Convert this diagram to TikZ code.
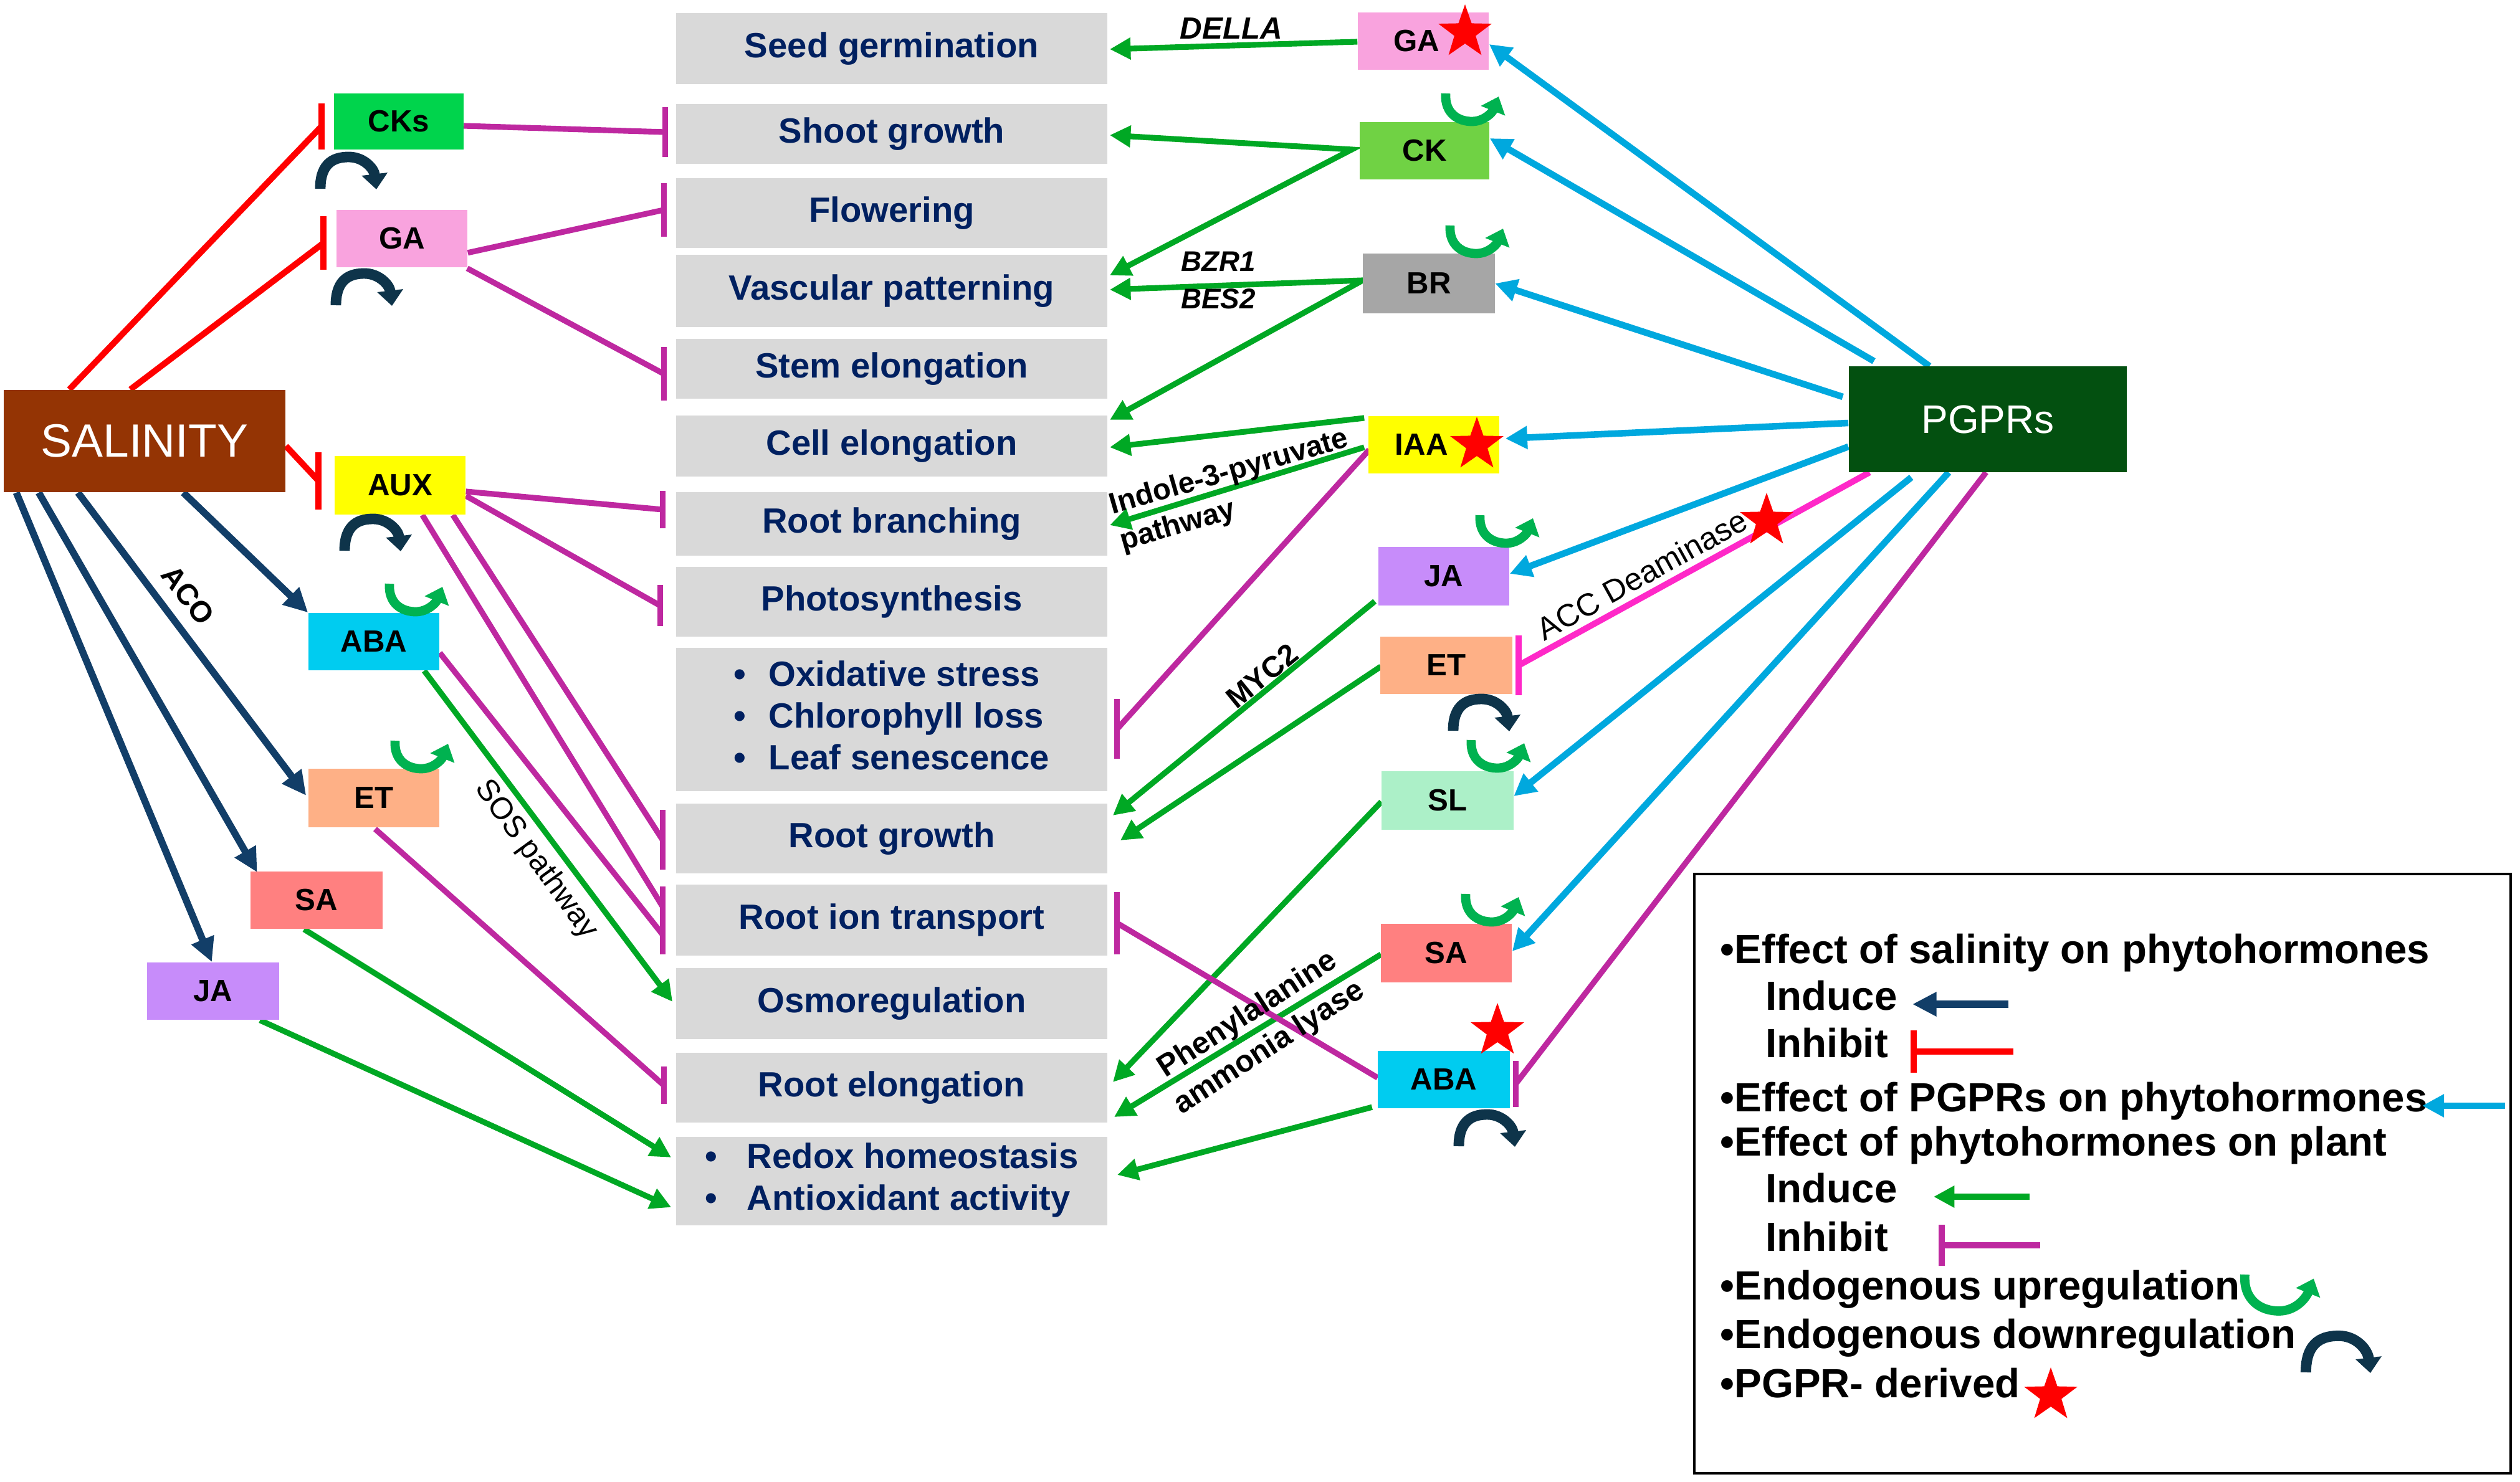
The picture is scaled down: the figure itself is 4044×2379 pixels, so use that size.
\documentclass[tikz,border=0pt]{standalone}
\usepackage{fontspec}
\setmainfont{Liberation Sans}
\usetikzlibrary{arrows.meta,calc,shapes.geometric}
\pgfdeclarelayer{bg}
\pgfsetlayers{bg,main}
\definecolor{salc}{RGB}{148,52,4}
\definecolor{pgc}{RGB}{3,80,16}
\definecolor{boxgray}{RGB}{217,217,217}
\definecolor{navytext}{RGB}{0,32,96}
\definecolor{cksc}{RGB}{0,212,76}
\definecolor{gac}{RGB}{249,163,222}
\definecolor{auxc}{RGB}{255,255,0}
\definecolor{abac}{RGB}{0,204,240}
\definecolor{etcol}{RGB}{254,176,134}
\definecolor{sac}{RGB}{255,128,128}
\definecolor{jac}{RGB}{199,140,250}
\definecolor{ckc}{RGB}{112,210,68}
\definecolor{brc}{RGB}{166,166,166}
\definecolor{slc}{RGB}{172,240,200}
\definecolor{redc}{RGB}{255,0,0}
\definecolor{navyc}{RGB}{18,62,104}
\definecolor{magc}{RGB}{190,40,160}
\definecolor{pinkc}{RGB}{255,40,200}
\definecolor{greenc}{RGB}{0,168,36}
\definecolor{cyanc}{RGB}{0,168,222}
\definecolor{upc}{RGB}{0,178,80}
\definecolor{downc}{RGB}{14,52,74}
\newcommand\inhbar[3]{\draw[#1,line cap=butt] ($(#2)+(0,#3)$) -- ($(#2)-(0,#3)$);}
\tikzset{
  upreg/.pic={\draw[upc, line width=4.2pt, -{Triangle[length=7pt,width=11.5pt]}] (8,0) .. controls (6,32) and (28,45) .. (50,45) .. controls (70,45) and (83,30) .. (93,5);},
  downreg/.pic={\draw[downc, line width=4.8pt, -{Triangle[length=7pt,width=11.5pt]}] (9,53) .. controls (9,8) and (35,2) .. (55,2) .. controls (78,2) and (95,20) .. (99,54);}
}
\begin{document}
\begin{tikzpicture}[x=0.01cm,y=-0.01cm,
  hb/.style={rectangle, inner sep=0pt, minimum width=2.1cm, minimum height=0.92cm, font=\fontsize{14}{16}\selectfont\bfseries, text=black},
  mb/.style={rectangle, fill=boxgray, inner sep=0pt, minimum width=6.92cm, font=\fontsize{16}{19}\selectfont\bfseries, text=navytext},
  grnarr/.style={draw=greenc, line width=2.6pt, -{Triangle[length=9.5pt,width=9.5pt]}},
  grntwo/.style={draw=greenc, line width=2.6pt, {Triangle[length=9.5pt,width=9.5pt]}-{Triangle[length=9.5pt,width=9.5pt]}},
  cynarr/.style={draw=cyanc, line width=3pt, -{Triangle[length=10pt,width=10pt]}},
  navarr/.style={draw=navyc, line width=3.2pt, -{Triangle[length=11pt,width=10.5pt]}},
  redln/.style={draw=redc, line width=2.8pt},
  magln/.style={draw=magc, line width=2.6pt},
  pinkln/.style={draw=pinkc, line width=2.8pt},
  lbl/.style={font=\fontsize{13.5}{17}\selectfont\bfseries, inner sep=0pt},
  lgd/.style={font=\fontsize{18.6}{22}\selectfont\bfseries, anchor=west, inner sep=0pt, text height=0.75em, text depth=0.2em},
  starn/.style={star, star points=5, star point ratio=2.5, fill=redc, draw=none, inner sep=0pt, minimum size=0.9cm}
]
\begin{pgfonlayer}{bg}
\fill[white] (0,0) rectangle (4044,2379);
\end{pgfonlayer}
\useasboundingbox (0,0) rectangle (4044,2379);

% left column
\node[hb, fill=salc, minimum width=4.52cm, minimum height=1.64cm, text=white, font=\fontsize{21.3}{25}\selectfont] (sal) at (232,708) {SALINITY};
\node[hb, fill=cksc, minimum width=2.07cm, minimum height=0.9cm] (cks) at (640,195) {CKs};
\node[hb, fill=gac] (gaL) at (645,383) {GA};
\node[hb, fill=auxc, minimum height=0.94cm] (aux) at (642,779) {AUX};
\node[hb, fill=abac] (abaL) at (600,1030) {ABA};
\node[hb, fill=etcol, minimum height=0.94cm] (etL) at (600,1281) {ET};
\node[hb, fill=sac, minimum width=2.11cm] (saL) at (508,1445) {SA};
\node[hb, fill=jac, minimum width=2.11cm] (jaL) at (342,1591) {JA};

% middle column
\node[mb, minimum height=1.13cm] (seed) at (1431,78) {Seed germination};
\node[mb, minimum height=0.95cm] (shoot) at (1431,215) {Shoot growth};
\node[mb, minimum height=1.12cm] (flower) at (1431,342) {Flowering};
\node[mb, minimum height=1.15cm] (vasc) at (1431,467) {Vascular patterning};
\node[mb, minimum height=0.95cm] (stem) at (1431,592) {Stem elongation};
\node[mb, minimum height=0.97cm] (cell) at (1431,716) {Cell elongation};
\node[mb, minimum height=1.02cm] (rbranch) at (1431,841) {Root branching};
\node[mb, minimum height=1.11cm] (photo) at (1431,966) {Photosynthesis};
\node[mb, minimum height=2.29cm] (oxid) at (1431,1155) {\begin{tabular}{@{}l@{\hspace{0.65em}}l@{}}\textbullet & Oxidative stress\\ \textbullet & Chlorophyll loss\\ \textbullet & Leaf senescence\end{tabular}};
\node[mb, minimum height=1.12cm] (rgrowth) at (1431,1346) {Root growth};
\node[mb, minimum height=1.14cm] (rion) at (1431,1477) {Root ion transport};
\node[mb, minimum height=1.14cm] (osmo) at (1431,1611) {Osmoregulation};
\node[mb, minimum height=1.11cm] (relong) at (1431,1746) {Root elongation};
\node[mb, minimum height=1.42cm] (redox) at (1431,1896) {\begin{tabular}{@{}l@{\hspace{0.85em}}l@{}}\textbullet & Redox homeostasis\\ \textbullet & Antioxidant activity\end{tabular}};

% right column
\node[hb, fill=gac] (gaR) at (2284,66) {GA\hspace*{0.45em}};
\node[hb, fill=ckc, minimum width=2.08cm] (ckR) at (2286,242) {CK};
\node[hb, fill=brc, minimum width=2.11cm, minimum height=0.95cm] (brR) at (2293,455) {BR};
\node[hb, fill=auxc] (iaa) at (2301,714) {IAA\hspace*{0.8em}};
\node[hb, fill=jac, minimum height=0.93cm] (jaR) at (2317,925) {JA};
\node[hb, fill=etcol, minimum width=2.11cm] (etR) at (2321,1068) {ET};
\node[hb, fill=slc, minimum width=2.11cm, minimum height=0.94cm] (slR) at (2323,1285) {SL};
\node[hb, fill=sac, minimum height=0.94cm] (saR) at (2321,1530) {SA};
\node[hb, fill=abac, minimum width=2.11cm, minimum height=0.91cm] (abaR) at (2317,1733) {ABA};
\node[hb, fill=pgc, minimum width=4.46cm, minimum height=1.69cm, text=white, font=\fontsize{18.2}{22}\selectfont] (pgpr) at (3190,673) {PGPRs};

\begin{pgfonlayer}{bg}
% salinity inhibitions
\coordinate (bCK) at ($(cks.west)+(-20,8)$);
\draw[redln] ($(sal.north west)+(106,0)$) -- (bCK); \inhbar{redln}{bCK}{37}
\coordinate (bGA) at ($(gaL.west)+(-20,7)$);
\draw[redln] ($(sal.north west)+(204,0)$) -- (bGA); \inhbar{redln}{bGA}{43}
\coordinate (bAUX) at ($(aux.west)+(-25,-7)$);
\draw[redln] ($(sal.east)+(0,8)$) -- (bAUX); \inhbar{redln}{bAUX}{46}
% salinity inductions
\draw[navarr] ($(sal.south west)+(289,0)$) -- (abaL.north west);
\draw[navarr] ($(sal.south west)+(120,0)$) -- ($(etL.west)+(-3,-4)$);
\draw[navarr] ($(sal.south west)+(57,0)$) -- ($(saL.north west)+(11,2)$);
\draw[navarr] ($(sal.south west)+(21,0)$) -- ($(jaL.north)+(-2,0)$);
% left hormones on plant
\coordinate (mShoot) at ($(shoot.west)+(-17,-3)$);
\draw[magln] ($(cks.east)+(0,7)$) -- (mShoot); \inhbar{magln}{mShoot}{40}
\coordinate (mFlow) at ($(flower.west)+(-19,-5)$);
\draw[magln] ($(gaL.south east)+(0,-24)$) -- (mFlow); \inhbar{magln}{mFlow}{43}
\coordinate (mStem) at ($(stem.west)+(-19,8)$);
\draw[magln] ($(gaL.south east)+(-1,1)$) -- (mStem); \inhbar{magln}{mStem}{43}
\coordinate (mBr) at ($(rbranch.west)+(-21,-23)$);
\draw[magln] ($(aux.east)+(0,10)$) -- (mBr); \inhbar{magln}{mBr}{30}
\coordinate (mPh) at ($(photo.west)+(-25,6)$);
\draw[magln] ($(aux.east)+(0,17)$) -- (mPh); \inhbar{magln}{mPh}{33}
\coordinate (mRg) at ($(rgrowth.west)+(-21,2)$);
\draw[magln] ($(aux.south east)+(-21,0)$) -- (mRg); \inhbar{magln}{mRg}{48}
\coordinate (mRi1) at ($(rion.west)+(-21,-22)$);
\draw[magln] ($(aux.south east)+(-70,0)$) -- (mRi1); \inhbar{magln}{mRi1}{32}
\coordinate (mRi2) at ($(rion.west)+(-21,23)$);
\draw[magln] ($(abaL.east)+(0,18)$) -- (mRi2); \inhbar{magln}{mRi2}{32}
\coordinate (mRe) at ($(relong.west)+(-19,-4)$);
\draw[magln] ($(etL.south)+(2,2)$) -- (mRe); \inhbar{magln}{mRe}{30}
\draw[grnarr] ($(abaL.south east)+(-25,0)$) -- ($(osmo.west)+(-5,-3)$);
\draw[grnarr] ($(saL.south)+(-20,0)$) -- ($(redox.west)+(-7,-38)$);
\draw[grnarr] ($(jaL.south east)+(-31,0)$) -- ($(redox.west)+(-7,42)$);
% right hormones on plant
\draw[grnarr] ($(gaR.west)+(0,1)$) -- ($(seed.east)+(3,1)$);
\draw[grntwo] ($(shoot.east)+(3,2)$) -- ($(ckR.west)+(-12,-2)$) -- ($(vasc.east)+(3,-25)$);
\draw[grntwo] ($(vasc.east)+(3,-2)$) -- ($(brR.west)+(0,-5)$) -- ($(cell.east)+(3,-42)$);
\draw[grnarr] ($(iaa.west)+(-6,-43)$) -- ($(cell.east)+(3,2)$);
\draw[grnarr] ($(iaa.west)+(-6,4)$) -- ($(rbranch.east)+(3,2)$);
\draw[grnarr] ($(jaR.south west)+(-5,-7)$) -- ($(rgrowth.east)+(8,-37)$);
\draw[grnarr] ($(etR.west)+(1,2)$) -- ($(rgrowth.east)+(20,3)$);
\draw[grnarr] ($(slR.west)+(0,2)$) -- ($(relong.east)+(8,-9)$);
\draw[grnarr] ($(saR.west)+(1,2)$) -- ($(relong.east)+(10,47)$);
\draw[grnarr] ($(abaR.south west)+(-9,-2)$) -- ($(redox.east)+(15,-10)$);
\coordinate (mOx) at ($(oxid.east)+(15,15)$);
\draw[magln] ($(iaa.west)+(2,8)$) -- (mOx); \inhbar{magln}{mOx}{48}
\coordinate (mRiR) at ($(rion.east)+(15,5)$);
\draw[magln] ($(abaR.west)+(0,-3)$) -- (mRiR); \inhbar{magln}{mRiR}{50}
% PGPR effects
\coordinate (mAbaR) at ($(abaR.east)+(9,7)$);
\draw[magln] ($(pgpr.south west)+(221,0)$) -- (mAbaR); \inhbar{magln}{mAbaR}{37}
\coordinate (pEt) at ($(etR.east)+(10,0)$);
\draw[pinkln] ($(pgpr.south west)+(34,0)$) -- (pEt); \inhbar{pinkln}{pEt}{48}
\draw[cynarr] ($(pgpr.north west)+(130,0)$) -- ($(gaR.east)+(0,5)$);
\draw[cynarr] ($(pgpr.north west)+(41,-8)$) -- ($(ckR.east)+(0,-20)$);
\draw[cynarr] ($(pgpr.west)+(-9,-36)$) -- (brR.east);
\draw[cynarr] ($(pgpr.west)+(0,6)$) -- ($(iaa.east)+(9,-10)$);
\draw[cynarr] ($(pgpr.west)+(0,44)$) -- ($(jaR.east)+(0,-4)$);
\draw[cynarr] ($(pgpr.south west)+(101,8)$) -- ($(slR.east)+(0,-7)$);
\draw[cynarr] ($(pgpr.south west)+(161,0)$) -- ($(saR.east)+(0,-3)$);
\end{pgfonlayer}

% stars
\node[starn] (stGA) at (2351,52) {};
\node[starn] (stIAA) at (2370,714) {};
\node[starn] (stABA) at (2403,1655) {};
\node[starn] (stACC) at (2835,836) {};

% labels
\node[lbl, font=\fontsize{14}{17}\selectfont\bfseries\itshape] (della) at (1976,46) {DELLA};
\node[lbl, font=\fontsize{13}{16}\selectfont\bfseries\itshape] (bzr) at (1955,420) {BZR1};
\node[lbl, font=\fontsize{13}{16}\selectfont\bfseries\itshape] (bes) at (1955,480) {BES2};
\node[lbl, rotate=16, align=left] (indole) at (1981,788) {Indole-3-pyruvate\\pathway};
\node[lbl, rotate=-52.5] (aco) at (302,955) {ACO};
\node[lbl, rotate=-54, font=\fontsize{14}{17}\selectfont] (sos) at (860,1380) {SOS pathway};
\node[lbl, rotate=39] (myc) at (2025,1085) {MYC2};
\node[lbl, rotate=29, font=\fontsize{14.4}{17}\selectfont] (acc) at (2635,922) {ACC Deaminase};
\node[lbl, rotate=33, align=center, font=\fontsize{14}{18}\selectfont\bfseries] (pal) at (2020,1656) {Phenylalanine\\ammonia lyase};

% regulation marks
\pic at (505,250) {downreg};
\pic at (530,437) {downreg};
\pic at (544,831) {downreg};
\pic at (617,937) {upreg};
\pic at (626,1189) {upreg};
\pic at (2312,150) {upreg};
\pic at (2319,362) {upreg};
\pic at (2367,827) {upreg};
\pic at (2323,1120) {downreg};
\pic at (2353,1188) {upreg};
\pic at (2344,1435) {upreg};
\pic at (2332,1787) {downreg};

% legend
\node[draw=black, line width=1.1pt, minimum width=13.1cm, minimum height=9.62cm, inner sep=0pt] (legbox) at (3374,1884) {};
\node[lgd] (lg1) at (2760,1537) {\textbullet Effect of salinity on phytohormones};
\node[lgd] (lg2) at (2833,1612) {Induce};
\node[lgd] (lg3) at (2833,1688) {Inhibit};
\node[lgd] (lg4) at (2760,1775) {\textbullet Effect of PGPRs on phytohormones};
\node[lgd] (lg5) at (2760,1846) {\textbullet Effect of phytohormones on plant};
\node[lgd] (lg6) at (2833,1921) {Induce};
\node[lgd] (lg7) at (2833,1999) {Inhibit};
\node[lgd] (lg8) at (2760,2077) {\textbullet Endogenous upregulation};
\node[lgd] (lg9) at (2760,2155) {\textbullet Endogenous downregulation};
\node[lgd] (lg10) at (2760,2234) {\textbullet PGPR- derived};
\coordinate (la1) at (3223,1612); \coordinate (la2) at (3069,1612);
\draw[navarr] (la1) -- (la2);
\coordinate (lb1) at (3231,1688); \coordinate (lb2) at (3071,1688);
\draw[redln] (lb1) -- (lb2); \inhbar{redln}{lb2}{34}
\coordinate (lc1) at (4020,1775); \coordinate (lc2) at (3887,1775);
\draw[cynarr] (lc1) -- (lc2);
\coordinate (ld1) at (3257,1921); \coordinate (ld2) at (3103,1921);
\draw[grnarr] (ld1) -- (ld2);
\coordinate (le1) at (3274,1999); \coordinate (le2) at (3116,1999);
\draw[magln] (le1) -- (le2); \inhbar{magln}{le2}{33}
\pic[scale=1.3] at (3592,2046) {upreg};
\pic[scale=1.15] at (3690,2142) {downreg};
\node[starn] (stLeg) at (3291,2240) {};
\end{tikzpicture}
\end{document}
